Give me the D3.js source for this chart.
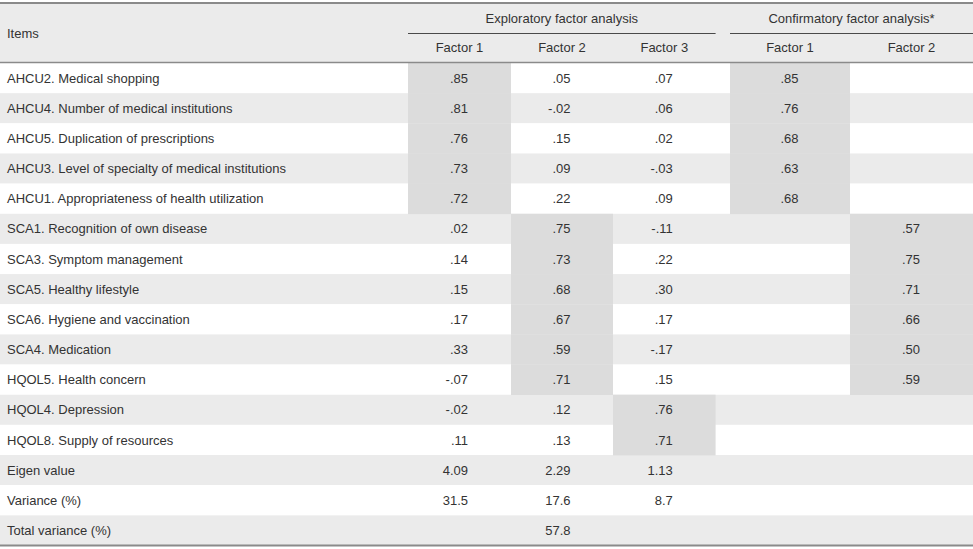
<!DOCTYPE html>
<html>
<head>
<meta charset="utf-8">
<script src="https://cdn.jsdelivr.net/npm/d3@7"></script>
<style>
  html, body { margin: 0; padding: 0; background: #fff; }
  svg { display: block; }
  text { font-family: "Liberation Sans", Arial, sans-serif; font-size: 13px; fill: #333; }
</style>
</head>
<body>
<svg id="chart" width="973" height="549"></svg>
<script>
// ---------- data ----------
const items = [
  "AHCU2. Medical shopping",
  "AHCU4. Number of medical institutions",
  "AHCU5. Duplication of prescriptions",
  "AHCU3. Level of specialty of medical institutions",
  "AHCU1. Appropriateness of health utilization",
  "SCA1. Recognition of own disease",
  "SCA3. Symptom management",
  "SCA5. Healthy lifestyle",
  "SCA6. Hygiene and vaccination",
  "SCA4. Medication",
  "HQOL5. Health concern",
  "HQOL4. Depression",
  "HQOL8. Supply of resources",
  "Eigen value",
  "Variance (%)",
  "Total variance (%)"
];
const groupTitles = ["Exploratory factor analysis", "Confirmatory factor analysis*"];
const columnLabels = ["Factor 1", "Factor 2", "Factor 3", "Factor 1", "Factor 2"];

const efaFactor1 = [0.85, 0.81, 0.76, 0.73, 0.72, 0.02, 0.14, 0.15, 0.17, 0.33, -0.07, -0.02, 0.11];
const efaFactor2 = [0.05, -0.02, 0.15, 0.09, 0.22, 0.75, 0.73, 0.68, 0.67, 0.59, 0.71, 0.12, 0.13];
const efaFactor3 = [0.07, 0.06, 0.02, -0.03, 0.09, -0.11, 0.22, 0.30, 0.17, -0.17, 0.15, 0.76, 0.71];
const cfaFactor1 = [0.85, 0.76, 0.68, 0.63, 0.68, null, null, null, null, null, null, null, null];
const cfaFactor2 = [null, null, null, null, null, 0.57, 0.75, 0.71, 0.66, 0.50, 0.59, null, null];
// factor each item loads on in EFA (1..3)
const efaLoadsOn = [1, 1, 1, 1, 1, 2, 2, 2, 2, 2, 2, 3, 3];

const eigenValues = [4.09, 2.29, 1.13];
const varianceShare = [31.5, 17.6, 8.7];
const totalVariance = 57.8;

// ---------- layout ----------
const W = 973, H = 549;
const svg = d3.select("#chart");
const headerTop = 3, headerMid = 33.5, headerBottom = 62.5, bodyBottom = 545.5;
const colEdges = [408, 511, 613, 715.6, 730, 850, 973]; // F1,F2,F3 | gap | CFA F1, CFA F2
const cols = [
  {l: colEdges[0], r: colEdges[1]},
  {l: colEdges[1], r: colEdges[2]},
  {l: colEdges[2], r: colEdges[3]},
  {l: colEdges[4], r: colEdges[5]},
  {l: colEdges[5], r: colEdges[6]}
];
cols.forEach(c => { c.c = (c.l + c.r) / 2; c.anchor = c.c + 8.5; });

const y = d3.scaleBand().domain(d3.range(items.length)).range([headerBottom + 0.5, bodyBottom]).padding(0);

const fmtLoad = v => v.toFixed(2).replace(/^(-?)0\./, "$1.");
const fmtEigen = v => v.toFixed(2);
const fmtVar = v => v.toFixed(1);

// header background
svg.append("rect").attr("x", 0).attr("y", headerTop).attr("width", W).attr("height", headerBottom - headerTop).attr("fill", "#ebebeb");

// row stripes
svg.selectAll("rect.stripe").data(items).join("rect")
  .attr("class", "stripe")
  .attr("x", 0).attr("width", W)
  .attr("y", (d, i) => y(i)).attr("height", y.bandwidth())
  .attr("fill", (d, i) => i % 2 === 1 ? "#ebebeb" : "#ffffff");

// highlight cells
const highlights = [];
efaLoadsOn.forEach((f, i) => highlights.push({row: i, col: f - 1}));
cfaFactor1.forEach((v, i) => { if (v !== null) highlights.push({row: i, col: 3}); });
cfaFactor2.forEach((v, i) => { if (v !== null) highlights.push({row: i, col: 4}); });
svg.selectAll("rect.hl").data(highlights).join("rect")
  .attr("class", "hl")
  .attr("x", d => cols[d.col].l).attr("width", d => cols[d.col].r - cols[d.col].l)
  .attr("y", d => y(d.row)).attr("height", y.bandwidth() + 0.3)
  .attr("fill", "#dcdcdc");

// rules
const rule = (x1, x2, yy, w, c) => svg.append("line").attr("x1", x1).attr("x2", x2).attr("y1", yy).attr("y2", yy)
  .attr("stroke", c).attr("stroke-width", w);
rule(0, W, headerTop, 2, "#8a8a8a");
rule(0, W, headerBottom, 1.5, "#8a8a8a");
rule(0, W, bodyBottom, 2, "#8a8a8a");
rule(colEdges[0], colEdges[3], headerMid, 1, "#4a4a4a");
rule(colEdges[4], W, headerMid, 1, "#4a4a4a");

// header texts
svg.append("text").attr("x", 7).attr("y", 33).attr("dy", "0.35em").text("Items");
svg.append("text").attr("x", (colEdges[0] + colEdges[3]) / 2).attr("y", 18).attr("dy", "0.35em")
  .attr("text-anchor", "middle").text(groupTitles[0]);
svg.append("text").attr("x", (colEdges[4] + W) / 2).attr("y", 18).attr("dy", "0.35em")
  .attr("text-anchor", "middle").text(groupTitles[1]);
svg.selectAll("text.colhead").data(columnLabels).join("text")
  .attr("class", "colhead")
  .attr("x", (d, i) => cols[i].c).attr("y", 47.5).attr("dy", "0.35em")
  .attr("text-anchor", "middle").text(d => d);

// item labels
svg.selectAll("text.item").data(items).join("text")
  .attr("class", "item")
  .attr("x", 7).attr("y", (d, i) => y(i) + y.bandwidth() / 2).attr("dy", "0.35em")
  .text(d => d);

// value cells
const cells = [];
[efaFactor1, efaFactor2, efaFactor3, cfaFactor1, cfaFactor2].forEach((arr, c) => {
  arr.forEach((v, r) => { if (v !== null) cells.push({row: r, col: c, t: fmtLoad(v)}); });
});
eigenValues.forEach((v, c) => cells.push({row: 13, col: c, t: fmtEigen(v)}));
varianceShare.forEach((v, c) => cells.push({row: 14, col: c, t: fmtVar(v)}));
cells.push({row: 15, col: 1, t: fmtVar(totalVariance)});

svg.selectAll("text.val").data(cells).join("text")
  .attr("class", "val")
  .attr("x", d => cols[d.col].anchor)
  .attr("y", d => y(d.row) + y.bandwidth() / 2).attr("dy", "0.35em")
  .attr("text-anchor", "end")
  .text(d => d.t);
</script>
</body>
</html>
